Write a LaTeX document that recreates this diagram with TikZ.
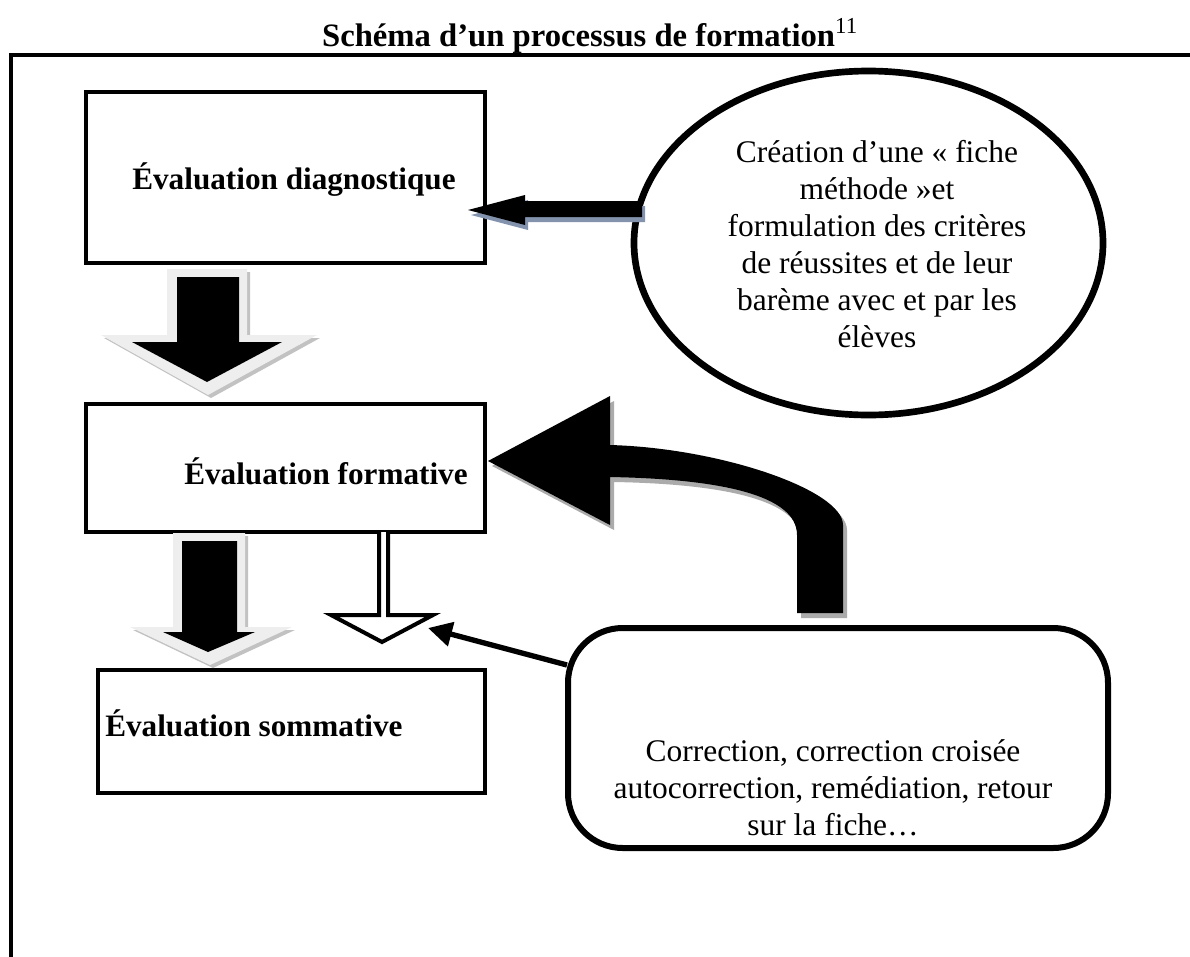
\documentclass[tikz,border=0pt]{standalone}
\usepackage{fontspec}
\setmainfont{Liberation Serif}
\usetikzlibrary{arrows.meta,shapes.geometric}
\definecolor{lightgr}{HTML}{EEEEEE}
\definecolor{midgr}{HTML}{C2C2C2}
\definecolor{shadowgr}{HTML}{ABABAB}
\definecolor{shadowblue}{HTML}{8393AD}
\begin{document}
\begin{tikzpicture}[x=0.75pt,y=-0.75pt,
  frameline/.style={line width=3pt},
  boxnode/.style={draw, line width=3pt, inner sep=0pt, outer sep=0pt},
  bodytext/.style={font=\fontsize{23.6pt}{27.75pt}\selectfont, inner sep=0pt},
  boldtext/.style={font=\fontsize{23.4pt}{27.75pt}\selectfont\bfseries, inner sep=0pt},
  bevelshadow/.style={fill=midgr},
  bevel/.style={fill=lightgr},
  curvedshape/.style={insert path={(488,461) -- (610,396) -- (610,445)
      .. controls (720,448) and (843,490) .. (843,525) -- (843,613) -- (797,613) -- (797,535)
      .. controls (797,495) and (720,479) .. (610,477) -- (610,525) -- cycle}},
  leftshape/.style={insert path={(468,210) -- (525,195) -- (525,201) -- (642,201) -- (642,217) -- (525,217) -- (525,225) -- cycle}},
  downone/.style={insert path={(167,269) -- (247,269) -- (247,335) -- (317,335) -- (208,395) -- (101,335) -- (167,335) -- cycle}},
  downoneblack/.style={insert path={(177,277) -- (239,277) -- (239,342) -- (282,342) -- (207,382) -- (132,342) -- (177,342) -- cycle}},
  downtwo/.style={insert path={(173,533) -- (245,533) -- (245,627) -- (292,627) -- (210,665) -- (130,627) -- (173,627) -- cycle}},
  downtwoblack/.style={insert path={(182,541) -- (237,541) -- (237,632) -- (255,632) -- (208,652) -- (163,632) -- (182,632) -- cycle}}
]
\useasboundingbox (0,0) rectangle (1190,957);

% title and frame
\node[font=\fontsize{24.5pt}{29pt}\selectfont\bfseries, anchor=base, inner sep=0pt] (title) at (590,46)
  {Schéma d’un processus de formation\textsuperscript{\mdseries 11}};
\coordinate (frameTL) at (11,55);
\coordinate (frameTR) at (1190,55);
\coordinate (frameBL) at (11,957);
\draw[frameline] (frameTR) -- (frameTL) -- (frameBL);

% boxes
\node[boxnode, minimum width=299.25pt, minimum height=128.25pt] (diag) at (285.5,177.5) {};
\node[boldtext, anchor=base] (diagt) at (294,189) {Évaluation diagnostique};
\node[boxnode, minimum width=299.25pt, minimum height=96pt] (form) at (285.5,468) {};
\node[boldtext, anchor=base west] (formt) at (184,484) {Évaluation formative};
\node[boxnode, minimum width=290.25pt, minimum height=92.25pt] (somm) at (291.5,731.5) {};
\node[boldtext, anchor=base west] (sommt) at (105,736) {Évaluation sommative};

% ellipse
\node[draw, ellipse, line width=5pt, minimum width=351.75pt, minimum height=258pt, inner sep=0pt] (crit) at (868.5,243) {};
\node[bodytext, align=center] (critt) at (877,244)
  {Création d’une « fiche\\méthode »et\\formulation des critères\\de réussites et de leur\\barème avec et par les\\élèves};

% rounded box
\node[draw, rounded corners=41pt, line width=4.5pt, minimum width=405pt, minimum height=165pt, inner sep=0pt] (corr) at (838,738) {};
\node[bodytext, align=center] (corrt) at (833,788)
  {Correction, correction croisée\\autocorrection, remédiation, retour\\sur la fiche…};

% down block arrows
\fill[bevelshadow, shift={(3,3)}, downone];
\fill[bevel, downone];
\fill[black, downoneblack];
\fill[bevelshadow, shift={(3,3)}, downtwo];
\fill[bevel, downtwo];
\fill[black, downtwoblack];

% hollow arrow
\draw[line width=3pt, fill=white, line join=miter] (379,532) -- (379,615) -- (331,615) -- (382,642) -- (433,615) -- (388,615) -- (388,532);

% arrow from ellipse to diagnostic box
\fill[shadowblue, shift={(3,5)}, leftshape];
\fill[black, leftshape];

% curved arrow
\fill[shadowgr, shift={(4,5)}, curvedshape];
\fill[black, curvedshape];

% straight arrow
\coordinate (hollowtip) at (428,628);
\coordinate (corrstart) at (567,665);
\draw[line width=4pt, -{Triangle[length=18pt,width=18pt]}] (corrstart) -- (hollowtip);
\end{tikzpicture}
\end{document}
